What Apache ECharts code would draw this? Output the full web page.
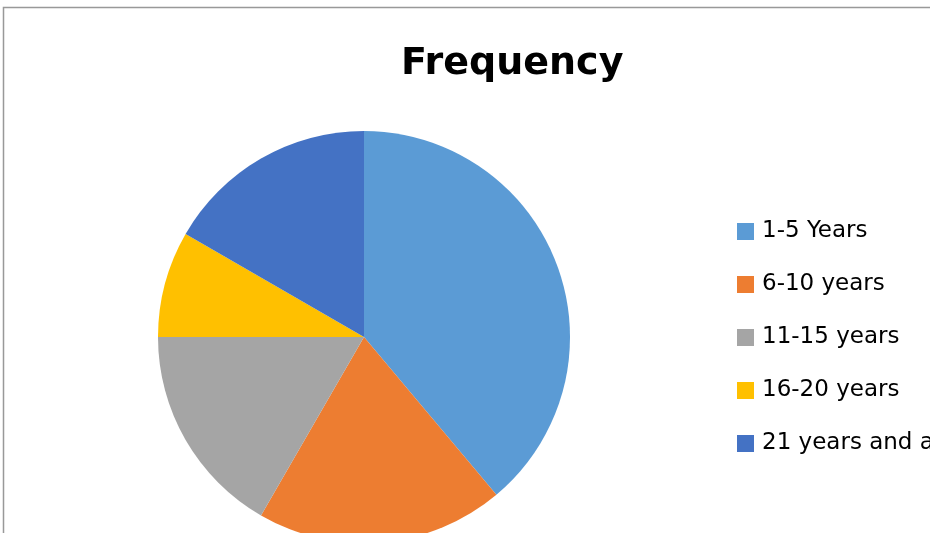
<!DOCTYPE html>
<html>
<head>
<meta charset="utf-8">
<script src="https://cdn.jsdelivr.net/npm/echarts@6/dist/echarts.min.js"></script>
<style>
  html, body { margin: 0; padding: 0; background: #fff; }
  #chart { width: 930px; height: 533px; }
</style>
</head>
<body>
<div id="chart"></div>
<script>
// Years of experience, counts per group
const categories = ['1-5 Years', '6-10 years', '11-15 years', '16-20 years', '21 years and above'];
const frequency = [14, 7, 6, 3, 6];
const colors = ['#5B9BD5', '#ED7D31', '#A5A5A5', '#FFC000', '#4472C4'];

const chart = echarts.init(document.getElementById('chart'), null, { renderer: 'canvas' });

chart.setOption({
  backgroundColor: '#ffffff',
  animation: false,
  color: colors,
  title: {
    text: 'Frequency',
    left: 401,
    top: 45,
    padding: 0,
    textStyle: { fontFamily: 'DejaVu Sans', fontWeight: 'bold', fontSize: 38, color: '#000' }
  },
  legend: {
    orient: 'vertical',
    left: 737,
    top: 220,
    padding: 0,
    itemWidth: 17,
    itemHeight: 17,
    itemGap: 30,
    icon: 'rect',
    textStyle: { fontFamily: 'DejaVu Sans', fontSize: 23, color: '#000', lineHeight: 22, padding: [0, 0, 0, 3] },
    data: categories
  },
  graphic: [
    {
      type: 'polyline',
      shape: { points: [[3.5, 533], [3.5, 7.5], [930, 7.5]] },
      style: { stroke: '#999999', lineWidth: 1.5, fill: null },
      silent: true
    }
  ],
  series: [{
    type: 'pie',
    center: [364, 337],
    radius: 206,
    startAngle: 90,
    clockwise: true,
    label: { show: false },
    labelLine: { show: false },
    itemStyle: { borderWidth: 0 },
    emphasis: { disabled: true },
    data: categories.map((name, i) => ({ name, value: frequency[i] }))
  }]
});
</script>
</body>
</html>
